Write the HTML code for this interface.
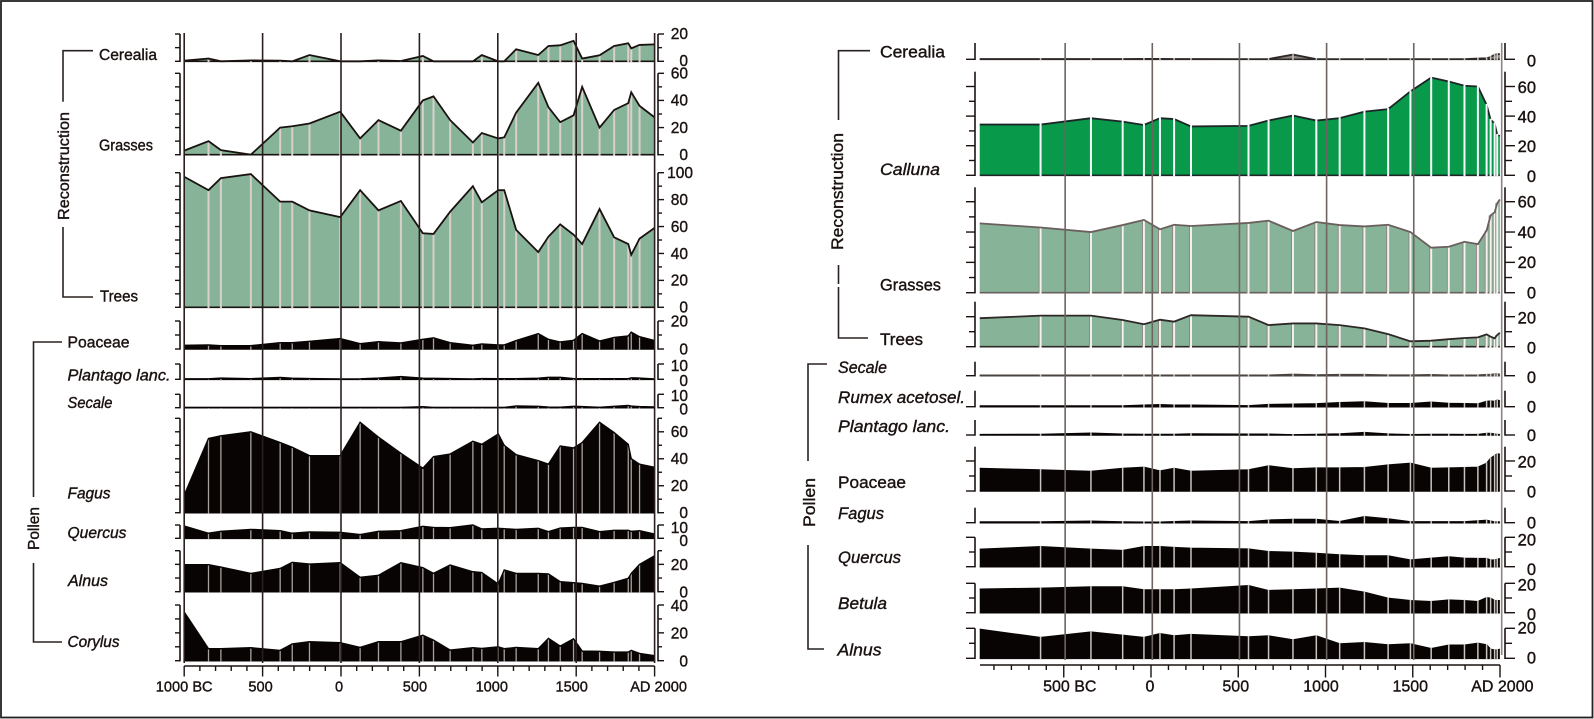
<!DOCTYPE html>
<html lang="en">
<head>
<meta charset="utf-8">
<title>Pollen and vegetation reconstruction diagrams</title>
<style>
  html,body{margin:0;padding:0;background:#fff;}
  body{width:1594px;height:719px;overflow:hidden;}
  svg{display:block;font-family:"Liberation Sans",sans-serif;filter:blur(.3px);}
  text{fill:#1a1210;stroke:#1a1210;stroke-width:.38px;}
  .lt{font-size:15.5px;}
  .rt{font-size:17px;}
  .it{font-style:italic;}
  .bracket{fill:none;stroke:#2a2220;stroke-width:1.6;}
</style>
</head>
<body>
<svg id="chart" xmlns="http://www.w3.org/2000/svg" width="1594" height="719" viewBox="0 0 1594 719">
  <rect x="1" y="1" width="1591.5" height="716.5" fill="#fff" stroke="#222" stroke-width="1.8"/>

  <g id="left-diagram"></g>
  <g id="right-diagram"></g>

  <g>
    <path class="bracket" d="M93 50.7H63V101.7"/>
    <path class="bracket" d="M63 227V297H93"/>
    <text class="lt" transform="translate(69,220) rotate(-90)" textLength="108" lengthAdjust="spacingAndGlyphs">Reconstruction</text>
    <path class="bracket" d="M62 342H33.5V497"/>
    <path class="bracket" d="M33.5 563V642H62"/>
    <text class="lt" transform="translate(39,550) rotate(-90)" textLength="43" lengthAdjust="spacingAndGlyphs">Pollen</text>

    <text class="lt" x="99" y="60" textLength="58" lengthAdjust="spacingAndGlyphs">Cerealia</text>
    <text class="lt" x="99" y="150.7" textLength="54" lengthAdjust="spacingAndGlyphs">Grasses</text>
    <text class="lt" x="100" y="301.7" textLength="38" lengthAdjust="spacingAndGlyphs">Trees</text>
    <text class="lt" x="67.5" y="347.7" textLength="62" lengthAdjust="spacingAndGlyphs">Poaceae</text>
    <text class="lt it" x="67.5" y="380.7" textLength="103" lengthAdjust="spacingAndGlyphs">Plantago lanc.</text>
    <text class="lt it" x="67.5" y="408" textLength="45" lengthAdjust="spacingAndGlyphs">Secale</text>
    <text class="lt it" x="67.5" y="498.7" textLength="43" lengthAdjust="spacingAndGlyphs">Fagus</text>
    <text class="lt it" x="67.5" y="538" textLength="59" lengthAdjust="spacingAndGlyphs">Quercus</text>
    <text class="lt it" x="68" y="586" textLength="40" lengthAdjust="spacingAndGlyphs">Alnus</text>
    <text class="lt it" x="67.5" y="647" textLength="52" lengthAdjust="spacingAndGlyphs">Corylus</text>
  </g>

  <g>
    <path class="bracket" d="M870 50.7H838.5V120"/>
    <path class="bracket" d="M838.5 265V284M838.5 287V338H868"/>
    <text class="rt" transform="translate(843,250) rotate(-90)" textLength="117" lengthAdjust="spacingAndGlyphs">Reconstruction</text>
    <path class="bracket" d="M827 364H808V461"/>
    <path class="bracket" d="M808 545V649H824"/>
    <text class="rt" transform="translate(815,527) rotate(-90)" textLength="49" lengthAdjust="spacingAndGlyphs">Pollen</text>

    <text class="rt" x="880" y="57.3" textLength="65" lengthAdjust="spacingAndGlyphs">Cerealia</text>
    <text class="rt it" x="880" y="175" textLength="60" lengthAdjust="spacingAndGlyphs">Calluna</text>
    <text class="rt" x="880" y="290.7" textLength="61" lengthAdjust="spacingAndGlyphs">Grasses</text>
    <text class="rt" x="880" y="345" textLength="43" lengthAdjust="spacingAndGlyphs">Trees</text>
    <text class="rt it" x="838" y="373" textLength="49" lengthAdjust="spacingAndGlyphs">Secale</text>
    <text class="rt it" x="838" y="403" textLength="127" lengthAdjust="spacingAndGlyphs">Rumex acetosel.</text>
    <text class="rt it" x="838" y="432" textLength="112" lengthAdjust="spacingAndGlyphs">Plantago lanc.</text>
    <text class="rt" x="838" y="488" textLength="68" lengthAdjust="spacingAndGlyphs">Poaceae</text>
    <text class="rt it" x="838" y="519" textLength="46" lengthAdjust="spacingAndGlyphs">Fagus</text>
    <text class="rt it" x="838" y="563" textLength="63" lengthAdjust="spacingAndGlyphs">Quercus</text>
    <text class="rt it" x="838" y="609" textLength="49" lengthAdjust="spacingAndGlyphs">Betula</text>
    <text class="rt it" x="837.5" y="655.7" textLength="44" lengthAdjust="spacingAndGlyphs">Alnus</text>
  </g>
</svg>

<script>
/* ---------- LEFT DIAGRAM DATA ---------- */
const leftYears = [-1000,-845,-766,-575,-388,-311,-201,-5,122,239,382,522,590,696,841,898,1003,1041,1117,1258,1323,1398,1483,1538,1649,1742,1832,1851,1904,2000];
const leftCerealia = [0.5,2,0,0.7,0.5,0,4.6,0,0,0.7,0.2,3.9,0,0,0,4.6,0,0,8.8,4.6,11.2,11.7,15,2,4.4,11.2,13.2,9.5,12,12.4];
const leftGrasses = [3,10,3.4,0,20,21,23,31.7,12,25.5,17.7,40,43,25.5,9,16,12,12.8,31,53,35,24,29,50,20,33,38,46,36,27.5];
const leftTrees = [97,87,96,99,78.5,78.5,72,67,87,72,79,55,54.5,71,90,78,87,87,57.5,41,52.5,61.6,54,47,73,52,47,39,51,59];
const leftPoaceae = [2.6,2.9,2.4,2.4,4.5,4.5,5.5,7.4,3.8,5.2,4.3,6.9,8,4.5,2.6,3.6,2.9,2.9,6,11,6.9,5,6.2,11,5.7,8.3,9.3,12,8.8,6];
const leftPlantago = [0.3,0.3,0.8,0.4,1.2,0.7,0.5,0.2,0.3,0.8,1.8,0.7,0.6,0.5,0.2,0.5,0.4,0.4,0.4,0.7,1.3,1.3,0.5,0.4,0.4,0.4,0.4,1,0.8,0.2];
const leftSecale = [0.2,0.2,0.2,0.2,0.2,0.2,0.2,0.2,0.2,0.2,0.2,0.7,0.2,0.2,0.2,0.2,0.2,0.2,1.3,1,0.5,0.4,1,0.8,0.3,1,1.7,1.2,0.8,0.6];
const leftFagus = [13,55,57,60,52,48.5,42.3,42.3,67,56,44,33,41.6,43.5,53,50.7,58.4,50,43,38.6,36,49.5,48,52,67,59.4,50.7,40,36,33.7];
const leftQuercus = [9.2,3.8,5.2,6.7,5.7,3.8,4.8,4.5,2.8,5.2,5.7,9,8.2,8,10,7,7.5,7.2,6.7,7.5,5,7.7,8.2,8.2,5,6,6,5.2,5.7,3.2];
const leftAlnus = [19.8,19.8,18,13.4,17,21.5,20.2,21.2,10.5,12,21.2,17.6,13.4,19.5,14.6,14,5.6,15.9,13.4,13.4,13,7.3,6.6,6,4,6.8,9.8,13.4,20,26.3];
const leftCorylus = [35,8.6,8.6,9.3,7.4,12,13.6,12.9,9.5,13.6,13.6,18.3,14.8,7.6,9.3,8.8,10,8.6,9.5,8.6,16,10.5,15.7,6.9,6.7,6.2,6.2,7.4,5.2,3.6];

const leftTicks20 = [0,20];
const leftTicks10 = [0,10];
const leftTicks60 = [0,20,40,60];
const leftTicks100 = [0,20,40,60,80,100];
const leftTicks40 = [0,20,40];
const leftTimeLines = [-1000,-500,0,500,1000,1500,2000];
const leftAxisLabels = ["1000 BC","500","0","500","1000","1500","AD 2000"];

/* ---------- RIGHT DIAGRAM DATA ---------- */
const rightYears = [-990,-641,-352,-170,-48,44,125,222,552,667,807,941,1075,1217,1353,1481,1600,1701,1791,1868,1918,1941,1964,1979,1994];
const rightCerealia = [0.2,0.2,0.2,0.2,0.3,0.3,0.2,0.2,0.1,0.2,3.2,0.1,0.1,0.1,0.1,0.1,0.1,0.1,0.1,0.5,0.7,1.5,3,3.5,3.5];
const rightCalluna = [34.3,34.3,38.6,36.3,34,38.6,38,33,33.4,37,40.4,37,38.6,43,44.7,56.7,66,63.4,60.5,60,47.6,37.5,35,27.3,26.6];
const rightGrasses = [45.7,43,40,44.6,48,41.8,44.8,44,46,47.5,40.7,46.6,44.6,43.7,44.8,40,29.7,30.3,33.6,32,41,51,53,59,61.5];
const rightTrees = [19,20.7,20.7,17.8,15,18,16.7,21,20,14.4,15.5,15.5,14.4,12.2,8.4,3.6,4,5,5.8,6.2,8.2,6.7,5.6,7.8,9.3];
const rightSecale = [0.2,0.2,0.2,0.2,0.2,0.2,0.2,0.2,0.2,0.2,0.8,0.4,0.6,0.6,0.3,0.3,0.5,0.2,0.2,0.3,0.6,0.6,1,1,0.8];
const rightRumex = [0.5,0.5,0.5,0.5,1,1.3,1,1,0.6,1.4,1.7,1.9,2.7,3.2,2,2,3,2.2,2,1.8,3.5,3.8,3.5,4.5,3.8];
const rightPlantago = [0.3,0.4,1.2,0.5,0.4,0.4,0.4,0.7,0.5,0.5,0.1,0.4,0.7,1.6,0.6,0.2,0.4,0.4,0.3,0.3,1,1,0.6,0.4,0.3];
const rightPoaceae = [15,14,13,15,15.8,13.3,15,13,14,16.7,14.7,15.3,15.3,15.5,17.3,18.4,15,15.3,15.5,15.8,18.4,21.8,23.5,24.7,24.4];
const rightFagus = [0.5,0.5,1,0.5,0.3,0.3,0.7,1,0.6,1.7,2.2,2.2,0.7,4,2.5,0.6,0.6,0.6,0.6,1.2,1.6,1,0.5,0.5,0.5];
const rightQuercus = [11.8,13.6,11.8,11,13.6,13.6,13,12.5,12,10.2,9.8,9,8,7.3,7.3,4.5,5.7,6.6,5.7,5.5,5.5,4.5,4.5,5,5.5];
const rightBetula = [16,16.6,17.5,17.5,15.5,15.5,15.5,16,18.4,15,15.5,16,16.6,13.9,9.8,8.2,7.5,8.6,8.2,7.5,10.2,9.8,8.2,8.2,8.2];
const rightAlnus = [19.3,13.8,17.5,15.3,13.8,16.4,14.9,15.8,14.2,14.9,12.2,14.9,9.6,10.4,8.9,9.6,6.4,8.7,8.7,10,8.9,6,5.5,5.5,6];

const rightTicks0 = [0];
const rightTicks20 = [0,20];
const rightTicks60 = [0,20,40,60];
const rightTimeLines = [-500,0,500,1000,1500];
const rightAxisYears = [-500,0,500,1000,1500,2000];
const rightAxisLabels = ["500 BC","0","500","1000","1500","AD 2000"];

/* ---------- LAYOUT (not data) ---------- */
const GREEN = "#87b498", CALLUNA = "#08994b", BLACK = "#090404";
const leftStyle = {gap:"#d9cfcb",gapW:2,halo:null,over:false};
const pollenL = {gap:"#a8a29e",gapW:1.3,halo:null,over:false};
const rightGreen = {gap:"#f4f1ee",gapW:2,halo:"#8a807c",over:false};
const rightCall = {gap:"#f8fbfb",gapW:2,halo:null,over:true};
const pollenR = {gap:"#c9c4bf",gapW:1.5,halo:null,over:true};

const leftPanels = [
 {id:"cerealia",vals:leftCerealia,top:34,base:61.3,max:20,step:10,ticks:leftTicks20,fill:GREEN,line:"#1a1210",st:leftStyle,shift:-.5},
 {id:"grasses",vals:leftGrasses,top:73.3,base:154.7,max:60,step:10,ticks:leftTicks60,fill:GREEN,line:"#1a1210",st:leftStyle,shift:0},
 {id:"trees",vals:leftTrees,top:172.7,base:307.3,max:100,step:10,ticks:leftTicks100,fill:GREEN,line:"#1a1210",st:leftStyle,shift:0},
 {id:"poaceae",vals:leftPoaceae,top:321,base:349,max:20,step:10,ticks:leftTicks20,fill:BLACK,line:BLACK,st:pollenL,shift:0},
 {id:"plantago",vals:leftPlantago,top:364,base:379.3,max:10,step:10,ticks:leftTicks10,fill:BLACK,line:BLACK,st:pollenL,shift:1.5},
 {id:"secale",vals:leftSecale,top:394.3,base:407.7,max:10,step:10,ticks:leftTicks10,fill:BLACK,line:BLACK,st:pollenL,shift:1.5},
 {id:"fagus",vals:leftFagus,top:418.3,base:512.7,max:70,step:10,ticks:leftTicks60,fill:BLACK,line:BLACK,st:pollenL,shift:0},
 {id:"quercus",vals:leftQuercus,top:525,base:538.3,max:10,step:10,ticks:leftTicks10,fill:BLACK,line:BLACK,st:pollenL,shift:2.5},
 {id:"alnus",vals:leftAlnus,top:550.7,base:591.7,max:30,step:10,ticks:leftTicks20,fill:BLACK,line:BLACK,st:pollenL,shift:.5},
 {id:"corylus",vals:leftCorylus,top:605,base:660.7,max:40,step:10,ticks:leftTicks40,fill:BLACK,line:BLACK,st:pollenL,shift:.5}
];
const rightPanels = [
 {id:"cerealia",vals:rightCerealia,top:43,base:59.3,max:11,step:0,ticks:rightTicks0,fill:"#8d8682",line:"#2e2826",st:pollenR,shift:1.5},
 {id:"calluna",vals:rightCalluna,top:71.7,base:175.3,max:70,step:10,tickMax:60,ticks:rightTicks60,fill:CALLUNA,line:"#1c2626",st:rightCall,shift:.7},
 {id:"grasses",vals:rightGrasses,top:187.3,base:292.7,max:69.5,step:10,tickMax:60,ticks:rightTicks60,fill:GREEN,line:"#6a5f5c",st:rightGreen,shift:0},
 {id:"trees",vals:rightTrees,top:301.7,base:346.7,max:30,step:10,tickMax:20,ticks:rightTicks20,fill:GREEN,line:"#2e2826",st:rightGreen,shift:1},
 {id:"secale",vals:rightSecale,top:361.7,base:375.7,max:9.3,step:0,ticks:rightTicks0,fill:"#55504c",line:"#4a4440",st:pollenR,shift:1.5},
 {id:"rumex",vals:rightRumex,top:390.7,base:406.7,max:10.7,step:0,ticks:rightTicks0,fill:BLACK,line:BLACK,st:pollenR,shift:0},
 {id:"plantago",vals:rightPlantago,top:420,base:435,max:10,step:0,ticks:rightTicks0,fill:BLACK,line:BLACK,st:pollenR,shift:0},
 {id:"poaceae",vals:rightPoaceae,top:446.7,base:491,max:29.5,step:10,tickMax:20,ticks:rightTicks20,fill:BLACK,line:BLACK,st:pollenR,shift:.5},
 {id:"fagus",vals:rightFagus,top:507.7,base:522.7,max:10,step:0,ticks:rightTicks0,fill:BLACK,line:BLACK,st:pollenR,shift:0},
 {id:"quercus",vals:rightQuercus,top:537.3,base:566.7,max:20,step:10,ticks:rightTicks20,fill:BLACK,line:BLACK,st:pollenR,shift:2.5},
 {id:"betula",vals:rightBetula,top:583.3,base:612.7,max:20,step:10,ticks:rightTicks20,fill:BLACK,line:BLACK,st:pollenR,shift:1.5},
 {id:"alnus",vals:rightAlnus,top:628.3,base:658.3,max:20,step:10,ticks:rightTicks20,fill:BLACK,line:BLACK,st:pollenR,shift:-.5}
];

/* ---------- AXIS FUNCTIONS ---------- */
function xLeft(year){return 341 + year*0.1568;}
function xRight(year){return 1152.3 + year*0.1743;}
function xRightAxis(year){return 1151 + year*0.1745;}
function yPanel(p,v){return p.base - (v/p.max)*(p.base-p.top);}

const NS = "http://www.w3.org/2000/svg";
function svgEl(tag,parent){const e=document.createElementNS(NS,tag);parent.appendChild(e);return e;}
function seg(e,x1,y1,x2,y2,color,w){
  e.setAttribute("x1",x1.toFixed(2));e.setAttribute("y1",y1.toFixed(2));
  e.setAttribute("x2",x2.toFixed(2));e.setAttribute("y2",y2.toFixed(2));
  e.setAttribute("stroke",color);e.setAttribute("stroke-width",w);
}

function drawSamples(grp,prefix,p,pts,lift){
  pts.forEach((q,i)=>{
    if(i===0||i===pts.length-1) return;
    if(p.st.halo){
      const h = svgEl("line",grp);
      
      
      seg(h,q[0]-.6,q[1],q[0]-.6,p.base+.7,p.st.halo,2.6);
    }
    const s = svgEl("line",grp);
    
    
    seg(s,q[0],q[1]-lift,q[0],p.base+1,p.st.gap,p.st.gapW);
  });
}

function drawPanel(root,prefix,p,years,xf,g){
  const grp = svgEl("g",root);
  
  

  const pts = years.map((yr,i)=>[xf(yr),yPanel(p,p.vals[i])]);
  const first = pts[0][0], last = pts[pts.length-1][0];

  const area = svgEl("path",grp);
  
  
  area.setAttribute("d","M"+first.toFixed(2)+" "+p.base+" L"+pts.map(q=>q[0].toFixed(2)+" "+q[1].toFixed(2)).join(" L")+" L"+last.toFixed(2)+" "+p.base+"Z");
  area.setAttribute("fill",p.fill);

  const baseLine = svgEl("line",grp);
  
  
  seg(baseLine,first,p.base,last,p.base,p.line,1.6);

  if(!p.st.over) drawSamples(grp,prefix,p,pts,-.5);

  const top = svgEl("polyline",grp);
  
  
  top.setAttribute("points",pts.map(q=>q[0].toFixed(2)+","+q[1].toFixed(2)).join(" "));
  top.setAttribute("fill","none");
  top.setAttribute("stroke",p.line);
  top.setAttribute("stroke-width",p.fill===BLACK?1.4:1.8);

  if(p.st.over) drawSamples(grp,prefix,p,pts,1);

  /* left-hand bracket */
  const lAxis = svgEl("line",grp);
  
  
  seg(lAxis,g.lx,p.top,g.lx,p.base+.7,"#1a1210",1.6);

  /* right-hand bracket */
  const rAxis = svgEl("line",grp);
  
  
  seg(rAxis,g.rx,p.top,g.rx,p.base+.7,"#1a1210",1.6);

  const tickMax = p.tickMax===undefined ? p.max : p.tickMax;
  const step = p.step || p.max*10;
  for(let v=0;v<=tickMax+.001;v+=step){
    const y = yPanel(p,v);
    const major = p.ticks.indexOf(v)>=0;
    const lt = svgEl("line",grp);
    
    
    seg(lt,g.lx-(major?g.lMajor:g.lMinor),y,g.lx,y,"#1a1210",1.4);
    const rt = svgEl("line",grp);
    
    
    seg(rt,g.rx,y,g.rx+(major?g.rMajor:g.rMinor),y,"#1a1210",1.4);
  }

  p.ticks.forEach(v=>{
    const t = svgEl("text",grp);
    
    
    const extra = String(v).length===3 ? 5 : 0;
    t.setAttribute("x",g.labelEnd+extra);
    t.setAttribute("y",(yPanel(p,v)+g.labelDy+p.shift).toFixed(2));
    t.setAttribute("text-anchor","end");
    t.setAttribute("font-size",g.labelSize);
    t.textContent = v;
  });
}

function drawDiagram(rootId,prefix,panels,years,xf,g){
  const root = document.getElementById(rootId);
  panels.forEach(p=>drawPanel(root,prefix,p,years,xf,g));
}

/* ---------- LEFT ---------- */
const leftGeom = {lx:180,rx:658,lMajor:5,lMinor:5,rMajor:6,rMinor:4,labelEnd:688,labelDy:5.3,labelSize:15.5};
drawDiagram("left-diagram","left",leftPanels,leftYears,xLeft,leftGeom);

const leftRoot = document.getElementById("left-diagram");
leftTimeLines.forEach(yr=>{
  const l = svgEl("line",leftRoot);
  
  
  seg(l,xLeft(yr),33,xLeft(yr),663,"#2a1f1f",1.6);
});

const leftAxisLine = svgEl("line",leftRoot);


seg(leftAxisLine,xLeft(-1000),666,xLeft(2000),666,"#1a1210",1.4);
for(let yr=-1000;yr<=2000;yr+=100){
  const major = yr%500===0;
  const t = svgEl("line",leftRoot);
  
  
  seg(t,xLeft(yr),666,xLeft(yr),major?676.5:671,"#1a1210",1.4);
}
const leftLabelNudge = [0,-2,-2,-4.5,-6,-4.5,4];
leftAxisLabels.forEach((txt,i)=>{
  const t = svgEl("text",leftRoot);
  
  
  t.setAttribute("x",xLeft(leftTimeLines[i])+leftLabelNudge[i]);
  t.setAttribute("y",691.5);
  t.setAttribute("text-anchor","middle");
  t.setAttribute("font-size",14.6);
  t.textContent = txt;
});

/* ---------- RIGHT ---------- */
const rightGeom = {lx:975,rx:1505,lMajor:9,lMinor:6,rMajor:10,rMinor:7,labelEnd:1536,labelDy:5.8,labelSize:16.5};
drawDiagram("right-diagram","right",rightPanels,rightYears,xRight,rightGeom);

const rightRoot = document.getElementById("right-diagram");
rightTimeLines.forEach(yr=>{
  const l = svgEl("line",rightRoot);
  
  
  seg(l,xRight(yr),43,xRight(yr),660,"#6e6460",1.6);
});
const rightEndLine = svgEl("line",rightRoot);


seg(rightEndLine,xRight(2000)+.8,43,xRight(2000)+.8,655,"#8d8680",1.6);

const rightAxisLine = svgEl("line",rightRoot);


seg(rightAxisLine,xRightAxis(-980),665,xRightAxis(2000),665,"#1a1210",1.4);
for(let yr=-900;yr<=2000;yr+=100){
  const major = yr%500===0;
  const t = svgEl("line",rightRoot);
  
  
  seg(t,xRightAxis(yr),665,xRightAxis(yr),major?677.5:670,"#1a1210",1.4);
}
const rightLabelNudge = [6,-1,-2.5,-4.5,-2.5,0];
rightAxisLabels.forEach((txt,i)=>{
  const t = svgEl("text",rightRoot);
  
  
  if(i===rightAxisLabels.length-1){
    t.setAttribute("x",1533.5);
    t.setAttribute("text-anchor","end");
  } else {
    t.setAttribute("x",xRightAxis(rightAxisYears[i])+rightLabelNudge[i]);
    t.setAttribute("text-anchor","middle");
  }
  t.setAttribute("y",691.7);
  t.setAttribute("font-size",16);
  t.textContent = txt;
});
</script>
</body>
</html>
